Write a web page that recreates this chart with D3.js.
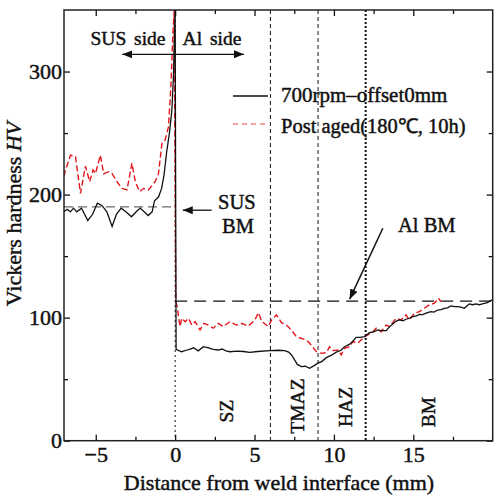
<!DOCTYPE html>
<html><head><meta charset="utf-8">
<script src="https://cdn.jsdelivr.net/npm/d3@7/dist/d3.min.js"></script>
<style>
body{margin:0;background:#fff;}
text{font-family:"Liberation Serif","Times New Roman",serif;fill:#111;stroke:#111;stroke-width:0.45px;}
</style></head>
<body><svg id="c" width="500" height="502"></svg>
<script>
// ---- data ----
const weldX = [-7.0,-6.8,-6.6,-6.4,-6.2,-5.9,-5.5,-5.2,-4.9,-4.6,-4.3,-3.97,-3.7,-3.4,-3.1,-2.75,-2.45,-2.2,-1.95,-1.7,-1.45,-1.3,-1.05,-0.85,-0.7,-0.52,-0.36,-0.21,-0.1,-0.02,0.0,0.06,
  0.1,0.4,0.7,0.95,1.15,1.45,1.78,2.1,2.4,2.72,2.95,3.2,3.45,3.87,4.3,4.7,5.2,5.96,6.5,6.9,7.15,7.33,7.53,7.7,7.95,8.2,8.47,8.75,9.0,9.25,9.52,9.85,10.15,10.45,10.67,11.0,11.2,11.4,11.65,11.93,12.24,12.5,12.76,13.0,13.29,13.5,13.71,13.9,14.12,14.35,14.54,14.75,14.96,15.2,15.38,15.6,15.8,16.11,16.3,16.53,16.75,16.95,17.15,17.37,17.6,17.79,18.0,18.21,18.52,18.75,18.94,19.15,19.35,19.67,19.95];
const weldHV = [186,188,186,189,186,189,179,184,193,191,186,174,184,189,186,182,186,189,186,183,186,195,198,205,216,236,250,268,298,342,350,74,
  74,72.3,73.5,74.5,75.5,73,76.4,75.5,74.2,73.7,74.5,73,72.3,72.8,72.5,71.8,72.5,73.2,73.5,73.2,72,69.7,65.5,62,60.2,60.5,58.8,61,63,64.5,67.5,69.5,72,73.5,76.4,78.5,81,84,84,84.5,87.8,88.5,90,89.5,89.4,92.5,94.9,97,98.1,97.5,98.7,99.5,100.8,101.5,102.7,102.5,103.6,104.9,104.5,106.2,106.5,107.6,108,109.5,109,108.9,108.5,107.6,111.1,110.5,111.1,110.5,111.1,112.2,114.4];
const agedX = [-7.0,-6.9,-6.59,-6.28,-5.96,-5.65,-5.38,-5.17,-5.02,-4.71,-4.5,-4.19,-3.97,-3.66,-3.35,-3.03,-2.72,-2.51,-2.24,-1.99,-1.68,-1.26,-1.05,-0.83,-0.63,-0.42,-0.27,-0.14,-0.06,0.04,
  0.15,0.21,0.31,0.42,0.63,0.84,1.05,1.26,1.57,1.82,2.09,2.4,2.72,3.03,3.45,3.87,4.19,4.6,5.02,5.25,5.45,5.86,6.07,6.38,6.7,7.01,7.32,7.64,7.95,8.27,8.47,8.9,9.2,9.52,9.73,9.94,10.25,10.46,10.67,10.99,11.19,11.5,11.93,12.45,12.66,12.97,13.29,13.5,13.92,14.23,14.54,14.75,15.07,15.38,15.69,16.0,16.32,16.59,16.74];
const agedHV = [215,220,232,231,201,223,210.5,220,217,232,217,218.6,217,210.5,205,203.8,225.5,210.5,202.4,205,203.8,210.5,217,241.7,244.4,255,287.7,331,350,113,
  108,100.8,92.7,99.5,96.7,99.5,94,96.7,90,95.4,94,91.4,95.4,92.7,96.7,94,95.4,93,98,104,97,92.7,98,102.2,95.9,94,90,84.5,83.2,81.8,79.2,72.3,71,71.5,76.4,73.2,73.7,69.7,75.1,76.4,80.5,79.2,84.5,88.6,91.4,88.6,94,92.7,99.5,98.1,102.2,98.1,103.6,104.9,107.6,110.3,111.7,115.8,113];
const xMajor = [-5,0,5,10,15];
const xMinor = [-2.5,2.5,7.5,12.5,17.5];
const yMajor = [0,100,200,300];
const yMinor = [50,150,250];
const zoneLines = [0,6,9,12];
const zoneLabels = ["SZ","TMAZ","HAZ","BM"];
const susBM = 190, alBM = 113.5;
const seriesNames = ["700rpm\u2013offset0mm","Post aged(180\u2103, 10h)"];

// ---- chart ----
const svg = d3.select("#c");
const L=64, R=492.7, T=10, B=440.7;
const x = d3.scaleLinear().domain([-7,20]).range([L,R]);
const y = d3.scaleLinear().domain([0,350]).range([B,T]);

svg.append("defs").append("clipPath").attr("id","clip").append("rect")
  .attr("x",L).attr("y",T).attr("width",R-L).attr("height",B-T);
const mk = svg.select("defs").append("marker").attr("id","arr").attr("viewBox","0 0 10 10")
  .attr("refX",10).attr("refY",5).attr("markerWidth",10).attr("markerHeight",10)
  .attr("markerUnits","userSpaceOnUse").attr("orient","auto-start-reverse");
mk.append("path").attr("d","M0,1 L10,5 L0,9 Z").attr("fill","#111");

// zone lines
const zStyle = {0:{d:"2,3",w:1},6:{d:"4,3",w:1},9:{d:"4,3",w:1},12:{d:"2,2",w:2}};
zoneLines.forEach(v=>{
  svg.append("line").attr("x1",x(v)).attr("x2",x(v)).attr("y1",T).attr("y2",B)
    .attr("stroke","#111").attr("stroke-width",zStyle[v].w).attr("stroke-dasharray",zStyle[v].d);
});
// BM reference lines
svg.append("line").attr("x1",x(-7)).attr("x2",x(0)).attr("y1",y(susBM)).attr("y2",y(susBM))
  .attr("stroke","#444").attr("stroke-width",1).attr("stroke-dasharray","9,5");
svg.append("line").attr("x1",x(0)).attr("x2",x(20)).attr("y1",y(alBM)).attr("y2",y(alBM))
  .attr("stroke","#111").attr("stroke-width",1.2).attr("stroke-dasharray","12,7");

// series
const line = d3.line().x(d=>x(d[0])).y(d=>y(d[1]));
const g = svg.append("g").attr("clip-path","url(#clip)");
g.append("path").datum(agedX.map((v,i)=>[v,agedHV[i]])).attr("d",line)
  .attr("fill","none").attr("stroke","#e3161b").attr("stroke-width",1.4).attr("stroke-dasharray","6,3");
g.append("path").datum(weldX.map((v,i)=>[v,weldHV[i]])).attr("d",line)
  .attr("fill","none").attr("stroke","#111").attr("stroke-width",1.3);

// axes
const fs = "22px";
function styleAxis(sel){ sel.select(".domain").remove(); sel.selectAll("line").attr("stroke","#111").attr("stroke-width",1.3); }
svg.append("g").attr("transform",`translate(0,${B})`).call(d3.axisBottom(x).tickValues(xMajor).tickSize(-6).tickPadding(6))
  .call(styleAxis).call(s=>s.selectAll("text").style("font-size",fs).attr("dy","0.71em").attr("fill","#111"));
svg.append("g").attr("transform",`translate(0,${B})`).call(d3.axisBottom(x).tickValues(xMinor).tickSize(-4).tickFormat(""))
  .call(styleAxis);
svg.append("g").attr("transform",`translate(0,${T})`).call(d3.axisTop(x).tickValues(xMajor).tickSize(-6).tickFormat("")).call(styleAxis);
svg.append("g").attr("transform",`translate(0,${T})`).call(d3.axisTop(x).tickValues(xMinor).tickSize(-4).tickFormat("")).call(styleAxis);
svg.append("g").attr("transform",`translate(${L},0)`).call(d3.axisLeft(y).tickValues(yMajor).tickSize(-6).tickPadding(2))
  .call(styleAxis).call(s=>s.selectAll("text").style("font-size",fs).attr("fill","#111"));
svg.append("g").attr("transform",`translate(${L},0)`).call(d3.axisLeft(y).tickValues(yMinor).tickSize(-4).tickFormat("")).call(styleAxis);
svg.append("g").attr("transform",`translate(${R},0)`).call(d3.axisRight(y).tickValues(yMajor).tickSize(-6).tickFormat("")).call(styleAxis);
svg.append("g").attr("transform",`translate(${R},0)`).call(d3.axisRight(y).tickValues(yMinor).tickSize(-4).tickFormat("")).call(styleAxis);
svg.append("rect").attr("x",L).attr("y",T).attr("width",R-L).attr("height",B-T)
  .attr("fill","none").attr("stroke","#222").attr("stroke-width",1.5);

// axis titles
svg.append("text").attr("x",279).attr("y",490).attr("text-anchor","middle").style("font-size","22px")
  .text("Distance from weld interface (mm)");
const yt = svg.append("text").attr("transform","translate(21,214) rotate(-90)").attr("text-anchor","middle").style("font-size","22px");
yt.append("tspan").text("Vickers hardness  ");
yt.append("tspan").style("font-style","italic").text("HV");

// legend
svg.append("line").attr("x1",233).attr("x2",268).attr("y1",96).attr("y2",96).attr("stroke","#111").attr("stroke-width",1.3);
svg.append("line").attr("x1",233).attr("x2",268).attr("y1",124).attr("y2",124).attr("stroke","#f08a8a").attr("stroke-width",1.3).attr("stroke-dasharray","5,4");
svg.append("text").attr("x",281).attr("y",101.5).style("font-size","21px").text(seriesNames[0]);
svg.append("text").attr("x",281).attr("y",133).style("font-size","20.5px").text(seriesNames[1]);

// side annotation
svg.append("text").attr("x",128).attr("y",45).attr("text-anchor","middle").style("font-size","19.5px").style("word-spacing","3px").text("SUS side");
svg.append("text").attr("x",212).attr("y",45).attr("text-anchor","middle").style("font-size","19.5px").style("word-spacing","3px").text("Al side");
svg.append("line").attr("x1",x(-3.33)).attr("x2",x(4.33)).attr("y1",y(314)).attr("y2",y(314))
  .attr("stroke","#111").attr("stroke-width",1.3).attr("marker-start","url(#arr)").attr("marker-end","url(#arr)");

// BM annotations
svg.append("text").attr("x",218).attr("y",209).style("font-size","20.5px").text("SUS");
svg.append("text").attr("x",222).attr("y",233).style("font-size","20.5px").text("BM");
svg.append("line").attr("x1",x(2.3)).attr("x2",x(0.48)).attr("y1",y(187.3)).attr("y2",y(187.3))
  .attr("stroke","#111").attr("stroke-width",1.3).attr("marker-end","url(#arr)");
svg.append("text").attr("x",398).attr("y",232).style("font-size","20.5px").text("Al BM");
svg.append("line").attr("x1",x(13.08)).attr("x2",x(10.99)).attr("y1",y(172.6)).attr("y2",y(115))
  .attr("stroke","#111").attr("stroke-width",1.5).attr("marker-end","url(#arr)");

// zone labels (rotated)
const zonePos = [[233,411],[303.5,406],[351.5,407],[435,412]];
zoneLabels.forEach((t,i)=>{
  svg.append("text").attr("transform",`translate(${zonePos[i][0]},${zonePos[i][1]}) rotate(-90)`)
    .attr("text-anchor","middle").style("font-size","19.5px").text(t);
});
</script></body></html>
